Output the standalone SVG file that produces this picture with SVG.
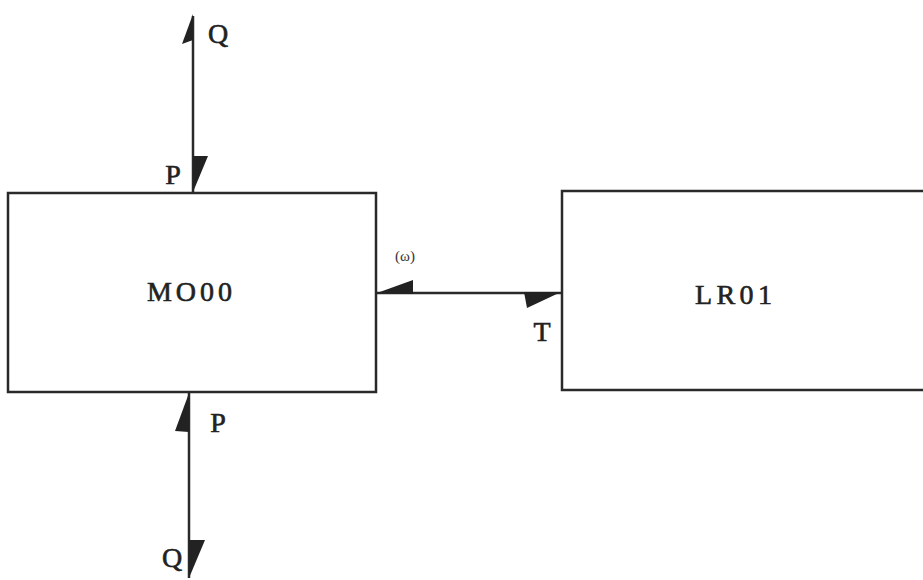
<svg xmlns="http://www.w3.org/2000/svg" width="923" height="580" viewBox="0 0 923 580">
<style>
.box{fill:none;stroke:#2a2a2a;stroke-width:2.5}
.ln{fill:none;stroke:#2a2a2a;stroke-width:2.5}
.fl{fill:#222;stroke:none}
.lb{font-family:"Liberation Serif",serif;font-size:28px;fill:#222;stroke:#222;stroke-width:0.6}
.sm{font-family:"Liberation Serif",serif;font-size:15px;fill:#333}
</style>
<rect width="923" height="580" fill="#fff"/>
<g id="connectors">
<line class="ln" x1="193" y1="16" x2="193" y2="193"/>
<polygon class="fl" points="193,14 182,44 193,40"/>
<polygon class="fl" points="193,156 208,156 193,192"/>
<line class="ln" x1="189" y1="392" x2="189" y2="578"/>
<polygon class="fl" points="189,393 175,431 189,432"/>
<polygon class="fl" points="189,540 205,540 189,578"/>
<line class="ln" x1="376" y1="293" x2="562" y2="293"/>
<polygon class="fl" points="377,293 413,280 413,294"/>
<polygon class="fl" points="524,292 561,292 527,308"/>
<text class="lb" x="218" y="43" text-anchor="middle">Q</text>
<text class="lb" x="173" y="184" text-anchor="middle">P</text>
<text class="lb" x="218" y="432" text-anchor="middle">P</text>
<text class="lb" x="172" y="567" text-anchor="middle">Q</text>
<text class="lb" x="542" y="341" text-anchor="middle">T</text>
<text class="sm" x="405" y="261" text-anchor="middle">(ω)</text>
</g>
<g id="MO00">
<rect class="box" x="8" y="193" width="368" height="199"/>
<text class="lb" x="147" y="301" textLength="85" lengthAdjust="spacing">MO00</text>
</g>
<g id="LR01">
<rect class="box" x="562" y="191" width="370" height="199"/>
<text class="lb" x="695" y="304" textLength="77" lengthAdjust="spacing">LR01</text>
</g>
</svg>
